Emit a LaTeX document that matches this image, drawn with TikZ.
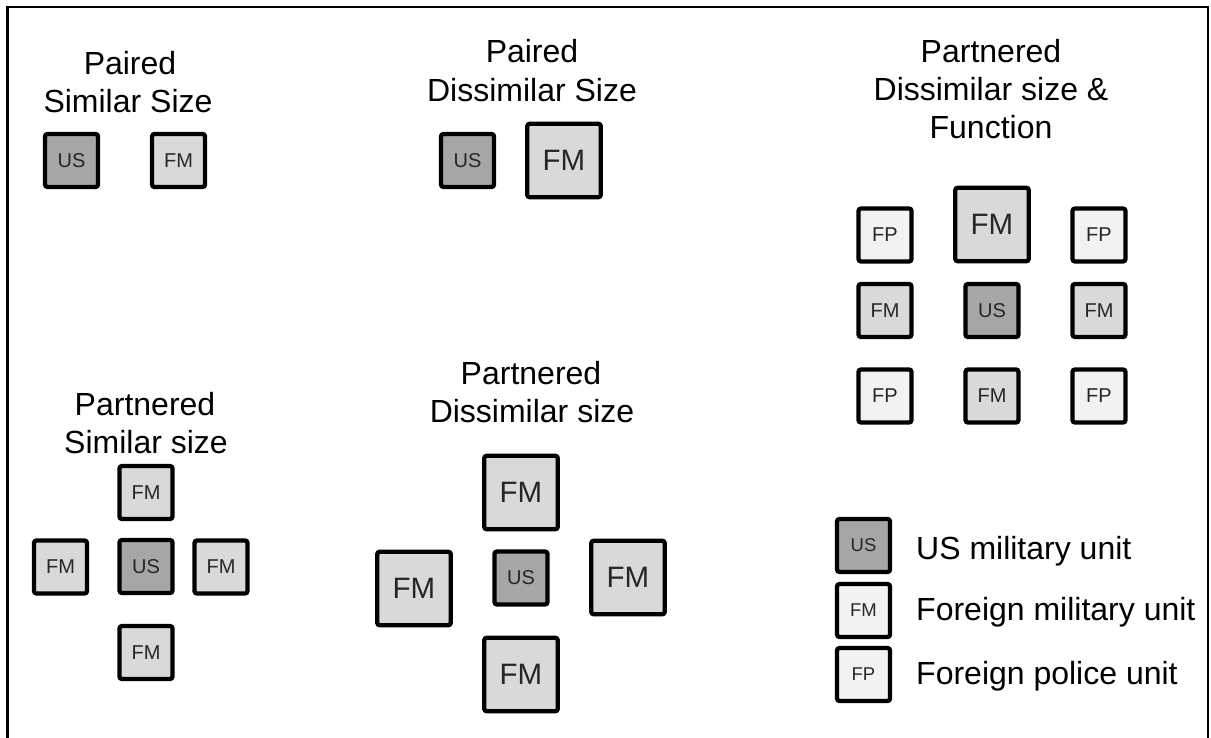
\documentclass[tikz,border=0pt]{standalone}
\usepackage{fontspec}
\setmainfont{Liberation Sans}
\definecolor{usgray}{HTML}{A6A6A6}
\definecolor{fmgray}{HTML}{D9D9D9}
\definecolor{fpgray}{HTML}{F2F2F2}
\definecolor{labelc}{HTML}{262626}
\begin{document}
\begin{tikzpicture}[x=1pt,y=-1pt,
  unitbox/.style={draw=black, line width=4.3pt, rounded corners=2.5pt, minimum size=53pt, inner sep=0pt, text=labelc, font=\fontsize{20}{20}\selectfont},
  bigbox/.style={minimum size=73.5pt, font=\fontsize{29.5}{29.5}\selectfont},
  usbox/.style={unitbox, fill=usgray},
  fmbox/.style={unitbox, fill=fmgray},
  fpbox/.style={unitbox, fill=fpgray},
  legbox/.style={font=\fontsize{18.5}{18.5}\selectfont},
  ttl/.style={anchor=base, inner sep=0pt, font=\fontsize{32}{38}\selectfont},
  legtext/.style={anchor=base west, inner sep=0pt, font=\fontsize{32}{38}\selectfont}]
\useasboundingbox (0,0) rectangle (1211,738);
% frame
\draw[line width=3pt] (7,738) -- (7,7);
\draw[line width=2.5pt] (5.5,7) -- (1209,7);
\draw[line width=2pt] (1208,7) -- (1208,738);

% Paired Similar Size
\node[ttl] (t1a) at (130,75) {Paired};
\node[ttl] (t1b) at (128,113) {Similar Size};
\node[usbox] (ps-us) at (71.5,160.5) {US};
\node[fmbox] (ps-fm) at (178.5,160.5) {FM};

% Paired Dissimilar Size
\node[ttl] (t2a) at (532,63) {Paired};
\node[ttl] (t2b) at (532,102) {Dissimilar Size};
\node[usbox] (pd-us) at (467.5,160.5) {US};
\node[fmbox,bigbox] (pd-fm) at (564,160.5) {FM};

% Partnered Dissimilar size & Function
\node[ttl] (t3a) at (991,63) {Partnered};
\node[ttl] (t3b) at (991,101) {Dissimilar size \&};
\node[ttl] (t3c) at (991,139) {Function};
\node[fpbox] (pf-fp1) at (885,235) {FP};
\node[fmbox,bigbox] (pf-fmt) at (992,224.5) {FM};
\node[fpbox] (pf-fp2) at (1099,235) {FP};
\node[fmbox] (pf-fml) at (885,310.5) {FM};
\node[usbox] (pf-us) at (992,310.5) {US};
\node[fmbox] (pf-fmr) at (1099,310.5) {FM};
\node[fpbox] (pf-fp3) at (885,396) {FP};
\node[fmbox] (pf-fmb) at (992,396) {FM};
\node[fpbox] (pf-fp4) at (1099,396) {FP};

% Partnered Similar size
\node[ttl] (t4a) at (145,415) {Partnered};
\node[ttl] (t4b) at (146,453) {Similar size};
\node[fmbox] (pt-fmt) at (146,492.5) {FM};
\node[fmbox] (pt-fml) at (60.5,567) {FM};
\node[usbox] (pt-us) at (146,566.5) {US};
\node[fmbox] (pt-fmr) at (221,567) {FM};
\node[fmbox] (pt-fmb) at (146,652.5) {FM};

% Partnered Dissimilar size
\node[ttl] (t5a) at (531,384) {Partnered};
\node[ttl] (t5b) at (532,422) {Dissimilar size};
\node[fmbox,bigbox] (px-fmt) at (521,492.5) {FM};
\node[fmbox,bigbox] (px-fml) at (414,588.5) {FM};
\node[usbox] (px-us) at (521,578) {US};
\node[fmbox,bigbox] (px-fmr) at (628,577.5) {FM};
\node[fmbox,bigbox] (px-fmb) at (521,674.5) {FM};

% Legend
\node[usbox,legbox] (lg-us) at (863.5,545.5) {US};
\node[fpbox,legbox] (lg-fm) at (863.5,610.5) {FM};
\node[fpbox,legbox] (lg-fp) at (863.5,674.5) {FP};
\node[legtext] (lt-us) at (916,559) {US military unit};
\node[legtext] (lt-fm) at (916,620) {Foreign military unit};
\node[legtext] (lt-fp) at (916,684) {Foreign police unit};
\end{tikzpicture}
\end{document}
